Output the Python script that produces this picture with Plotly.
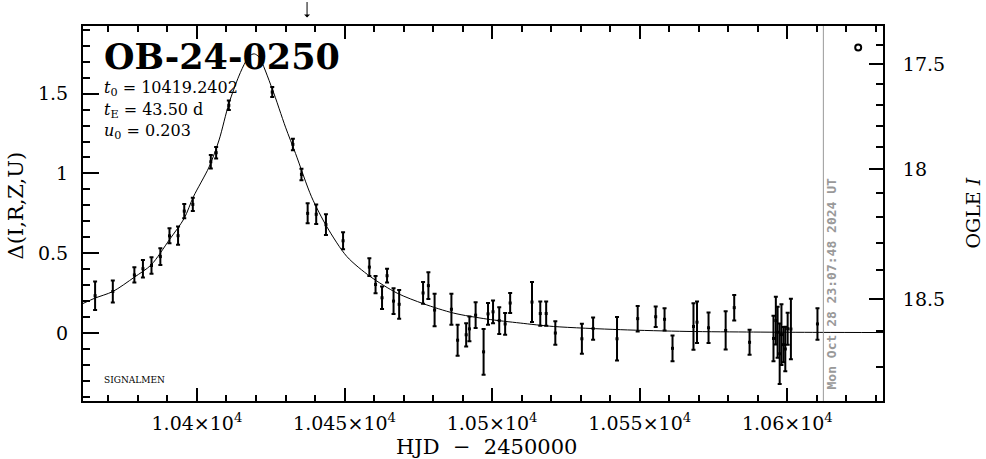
import plotly.graph_objects as go

# ---------------- data ----------------
t_obs = [10365.5, 10371.5, 10378.8, 10381.7, 10384.6, 10387.6, 10390.7, 10393.6, 10395.7, 10398.6,
         10404.7, 10406.5, 10410.8, 10425.5, 10432.5, 10435.4, 10437.5, 10440.4, 10443.7, 10449.5,
         10458.4, 10460.5, 10462.7, 10464.4, 10466.6, 10468.5, 10476.6, 10478.4, 10480.5, 10486.2,
         10488.3, 10491.2, 10492.3, 10494.4, 10497.1, 10498.6, 10500.3, 10502.4, 10504.4, 10506.1,
         10513.5, 10516.3, 10518.3, 10521.4, 10530.4, 10534.2, 10542.3, 10549.3, 10555.4, 10558.4,
         10561.1, 10568.2, 10569.4, 10573.3, 10579.1, 10582.0, 10587.2,
         10595.3, 10596.1, 10596.7, 10597.4, 10598.0, 10598.7, 10599.3, 10600.1, 10601.2,
         10610.2]
d_obs = [0.234, 0.26, 0.364, 0.403, 0.423, 0.479, 0.609, 0.61, 0.764, 0.806,
         1.073, 1.13, 1.427, 1.51, 1.182, 0.994, 0.75, 0.744, 0.679, 0.578,
         0.413, 0.304, 0.221, 0.359, 0.2, 0.18, 0.251, 0.297, 0.144, 0.149,
         -0.045, -0.011, 0.026, 0.112, -0.118, 0.12, 0.133, 0.078, 0.057, 0.188,
         0.194, 0.122, 0.122, 0.0, -0.036, 0.028, -0.036, 0.09, 0.102, 0.086,
         -0.096, 0.041, 0.068, 0.033, 0.016, 0.159, -0.058,
         -0.034, 0.078, 0.005, -0.13, -0.01, -0.073, -0.1, 0.027, 0.025,
         0.057]
e_obs = [0.089, 0.069, 0.048, 0.055, 0.052, 0.052, 0.047, 0.057, 0.045, 0.042,
         0.042, 0.036, 0.03, 0.031, 0.036, 0.036, 0.0625, 0.061, 0.065, 0.053,
         0.055, 0.054, 0.071, 0.043, 0.081, 0.09, 0.068, 0.084, 0.102, 0.097,
         0.097, 0.073, 0.078, 0.081, 0.143, 0.068, 0.071, 0.084, 0.068, 0.0625,
         0.125, 0.076, 0.076, 0.073, 0.094, 0.07, 0.136, 0.08, 0.064, 0.07,
         0.081, 0.146, 0.13, 0.096, 0.12, 0.08, 0.078,
         0.143, 0.15, 0.16, 0.19, 0.19, 0.11, 0.14, 0.1, 0.19,
         0.099]

# model curve
t_model = [10361.4, 10365.5, 10371.5, 10378.8, 10384.5, 10390.6, 10395.7, 10398.8, 10404.1, 10407.5,
           10410.8, 10414.2, 10416.5, 10418.5, 10419.5, 10421.0, 10425.5, 10430.0, 10433.4, 10438.8,
           10444.0, 10450.8, 10458.7, 10467.8, 10476.8, 10486.9, 10498.2, 10509.5, 10520.8, 10543.4,
           10566.0, 10588.6, 10611.0, 10632.4]
d_model = [0.185, 0.219, 0.26, 0.35, 0.427, 0.583, 0.719, 0.854, 1.04, 1.21,
           1.437, 1.61, 1.70, 1.745, 1.749, 1.73, 1.53, 1.29, 1.125, 0.854,
           0.666, 0.479, 0.354, 0.25, 0.183, 0.125, 0.0875, 0.0625, 0.041, 0.021,
           0.010, 0.006, 0.004, 0.003]

x_major = [10400, 10450, 10500, 10550, 10600]
x_labels = ["1.04×10<sup>4</sup>", "1.045×10<sup>4</sup>", "1.05×10<sup>4</sup>",
            "1.055×10<sup>4</sup>", "1.06×10<sup>4</sup>"]
y_major = [0, 0.5, 1, 1.5]
y_labels = ["0", "0.5", "1", "1.5"]
# OGLE I scale (positions in Delta units)
i_major = [1.685, 1.025, 0.211]
i_labels = ["17.5", "18", "18.5"]
i_minor = [1.806, 1.560, 1.432, 1.300, 1.165, 0.879, 0.726, 0.565, 0.394, 0.0105, -0.211]

now_hjd = 10612.2
now_text = "Mon Oct 28 23:07:48 2024 UT"
alert_hjd = 10437.3
event = "OB-24-0250"
params = ["<i>t</i><sub>0</sub> = 10419.2402", "<i>t</i><sub>E</sub> = 43.50 d", "<i>u</i><sub>0</sub> = 0.203"]
marker_pt = (10624.0, 1.79)
x_title = "HJD  −  2450000"
y_title = "Δ(I,R,Z,U)"
y2_title = "OGLE <i>I</i>"

xr = [10361.4, 10632.4]
yr = [-0.426, 1.924]
SERIF = "DejaVu Serif"

fig = go.Figure()
fig.add_trace(go.Scatter(x=t_model, y=d_model, mode="lines",
                         line=dict(color="black", width=1, shape="spline", smoothing=0.8),
                         hoverinfo="skip"))
fig.add_trace(go.Scatter(x=t_obs, y=d_obs, mode="markers",
                         marker=dict(color="black", size=3, symbol="square"),
                         error_y=dict(type="data", array=e_obs, color="black", thickness=2, width=2)))
fig.add_trace(go.Scatter(x=[marker_pt[0]], y=[marker_pt[1]], mode="markers", yaxis="y2",
                         marker=dict(symbol="circle-open", size=6, color="black", line=dict(width=2))))

fig.add_shape(type="line", xref="x", yref="paper", x0=now_hjd, x1=now_hjd, y0=0, y1=1,
              line=dict(color="#999999", width=1))

ann = []
ann.append(dict(x=xr[0] + 6.5, y=1.734, xref="x", yref="y", text=event, showarrow=False,
                xanchor="left", yanchor="middle",
                font=dict(family=SERIF, size=35, color="black", weight="bold")))
for k, (txt, yy) in enumerate(zip(params, [1.531, 1.396, 1.26])):
    ann.append(dict(x=xr[0] + 6.5, y=yy, xref="x", yref="y", text=txt, showarrow=False,
                    xanchor="left", yanchor="middle", font=dict(family=SERIF, size=16, color="black")))
ann.append(dict(x=xr[0] + 6.5, y=-0.295, xref="x", yref="y", text="SIGNALMEN", showarrow=False,
                xanchor="left", yanchor="middle", font=dict(family=SERIF, size=9, color="black")))
ann.append(dict(x=now_hjd + 2.9, y=0.31, xref="x", yref="y", text=now_text, showarrow=False,
                textangle=-90, xanchor="center", yanchor="middle",
                font=dict(family="DejaVu Sans Mono", size=13, color="#999999", weight="bold")))
ann.append(dict(x=alert_hjd, y=1.0226, xref="x", yref="paper", text="", showarrow=True,
                ax=0, ay=-17, axref="pixel", ayref="pixel", arrowhead=1, arrowsize=1,
                arrowwidth=1, arrowcolor="black"))
ann.append(dict(x=1.0, y=0.5, xref="paper", yref="paper", xshift=89, text=y2_title,
                showarrow=False, textangle=-90, xanchor="center", yanchor="middle",
                font=dict(family=SERIF, size=19, color="black")))
ann.append(dict(x=0.0, y=0.5, xref="paper", yref="paper", xshift=-68, yshift=8, text=y_title,
                showarrow=False, textangle=-90, xanchor="center", yanchor="middle",
                font=dict(family=SERIF, size=21, color="black")))
ann.append(dict(x=0.5, y=0.0, xref="paper", yref="paper", xshift=3, yshift=-46, text=x_title,
                showarrow=False, xanchor="center", yanchor="middle",
                font=dict(family=SERIF, size=21, color="black")))

tickfont = dict(family=SERIF, size=19, color="black")

fig.update_layout(
    width=986, height=459,
    margin=dict(l=83, r=103, t=26, b=58, autoexpand=False),
    plot_bgcolor="white", paper_bgcolor="white",
    showlegend=False,
    annotations=ann,
    xaxis=dict(range=xr, tickmode="array", tickvals=x_major, ticktext=x_labels,
               ticks="inside", ticklen=13, tickwidth=1.5, tickcolor="black",
               showline=True, linewidth=2, linecolor="black", mirror="ticks",
               showgrid=False, zeroline=False, tickfont=tickfont, automargin=False,
               ticklabelstandoff=4,
               minor=dict(ticks="inside", ticklen=6, tickwidth=1.5, tickcolor="black",
                          tickmode="linear", tick0=10400, dtick=10, showgrid=False)),
    yaxis=dict(range=yr, tickmode="array", tickvals=y_major, ticktext=y_labels,
               ticks="inside", ticklen=16, tickwidth=1.5, tickcolor="black",
               showline=True, linewidth=2, linecolor="black", automargin=False,
               showgrid=False, zeroline=False, tickfont=tickfont, ticklabelstandoff=9,
               minor=dict(ticks="inside", ticklen=7, tickwidth=1.5, tickcolor="black",
                          tickmode="linear", tick0=0, dtick=0.1, showgrid=False)),
    yaxis2=dict(range=yr, overlaying="y", side="right", tickmode="array",
                tickvals=i_major, ticktext=i_labels, automargin=False,
                ticks="inside", ticklen=14, tickwidth=1.5, tickcolor="black",
                showline=True, linewidth=2, linecolor="black",
                showgrid=False, zeroline=False, tickfont=tickfont, ticklabelstandoff=14,
                minor=dict(ticks="inside", ticklen=7, tickwidth=1.5, tickcolor="black",
                           tickmode="array", tickvals=i_minor, showgrid=False)),
)

fig.write_html("out.html", config={"displayModeBar": False},
               post_script="document.body.style.margin='0';")
